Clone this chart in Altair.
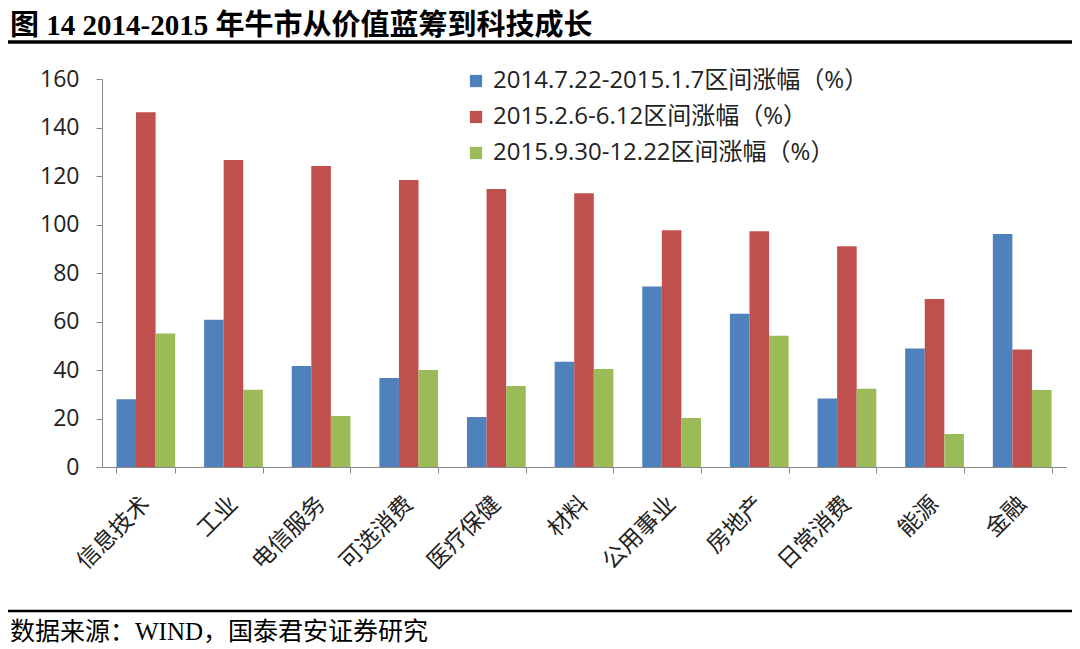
import altair as alt
import pandas as pd

categories = ["信息技术", "工业", "电信服务", "可选消费", "医疗保健", "材料",
              "公用事业", "房地产", "日常消费", "能源", "金融"]
series_names = ["2014.7.22-2015.1.7区间涨幅（%）",
                "2015.2.6-6.12区间涨幅（%）",
                "2015.9.30-12.22区间涨幅（%）"]
s1 = [27.9, 60.7, 41.6, 36.7, 20.6, 43.4, 74.4, 63.2, 28.2, 48.9, 96.1]
s2 = [146.3, 126.6, 124.1, 118.4, 114.6, 112.9, 97.6, 97.2, 91.0, 69.3, 48.5]
s3 = [55.1, 31.9, 21.0, 40.0, 33.4, 40.4, 20.2, 54.1, 32.3, 13.6, 31.8]
colors = ["#4F81BD", "#C0504D", "#9BBB59"]
y_ticks = [0, 20, 40, 60, 80, 100, 120, 140, 160]

title_text = "图  14 2014-2015 年牛市从价值蓝筹到科技成长"
source_text = "数据来源：WIND，国泰君安证券研究"

rows = []
for name, vals in zip(series_names, [s1, s2, s3]):
    for c, v in zip(categories, vals):
        rows.append({"category": c, "series": name, "value": v})
df = pd.DataFrame(rows)

sans = "Open Sans, Noto Sans CJK SC"
cjk = "Noto Sans CJK SC"
serif = "Liberation Serif, Noto Sans CJK SC"

bars = alt.Chart(df).mark_bar().encode(
    x=alt.X("category:N", sort=categories,
            scale=alt.Scale(paddingInner=0.33, paddingOuter=0.165),
            axis=alt.Axis(title=None, labelAngle=-45, labelAlign="right",
                          labelBaseline="middle", labelFontSize=23, labelFont=cjk,
                          labelColor="#222", labelPadding=27, tickBand="extent",
                          tickSize=6, domainColor="#888", tickColor="#888")),
    xOffset=alt.XOffset("series:N", sort=series_names,
                        scale=alt.Scale(paddingInner=0, paddingOuter=0)),
    y=alt.Y("value:Q", scale=alt.Scale(domain=[0, 160], nice=False),
            axis=alt.Axis(title=None, values=y_ticks, grid=False, labelFontSize=23,
                          labelFont=sans, labelColor="#222", tickSize=6,
                          labelPadding=17, domainColor="#888", tickColor="#888")),
    color=alt.Color("series:N", sort=series_names,
                    scale=alt.Scale(domain=series_names, range=colors),
                    legend=alt.Legend(title=None, orient="none", legendX=362, legendY=-10,
                                      symbolType="square", symbolSize=150,
                                      symbolStrokeWidth=0, labelFontSize=24,
                                      labelFont=sans, labelColor="#222",
                                      rowPadding=12, labelOffset=5, labelLimit=700,
                                      padding=0)),
)

one = alt.Data(values=[{}])

title = alt.Chart(one).mark_text(
    text=title_text, align="left", baseline="alphabetic", fontSize=29,
    fontWeight="bold", font=serif, color="#000"
).encode(x=alt.value(-92), y=alt.value(-44))

rule_top = alt.Chart(one).mark_rule(color="#000", strokeWidth=3.5).encode(
    x=alt.value(-102), x2=alt.value(978), y=alt.value(-37))

rule_bottom = alt.Chart(one).mark_rule(color="#000", strokeWidth=2.5).encode(
    x=alt.value(-102), x2=alt.value(978), y=alt.value(532))

source = alt.Chart(one).mark_text(
    text=source_text, align="left", baseline="alphabetic", fontSize=25,
    font=serif, color="#000"
).encode(x=alt.value(-92), y=alt.value(561))

chart = alt.layer(bars, title, rule_top, rule_bottom, source).properties(
    width=964, height=388,
    padding={"left": 94, "top": 71, "right": 6, "bottom": 182},
    autosize=alt.AutoSizeParams(type="none"),
).configure_view(stroke=None)

chart.save("out.html", embed_options={"renderer": "svg", "actions": False})
